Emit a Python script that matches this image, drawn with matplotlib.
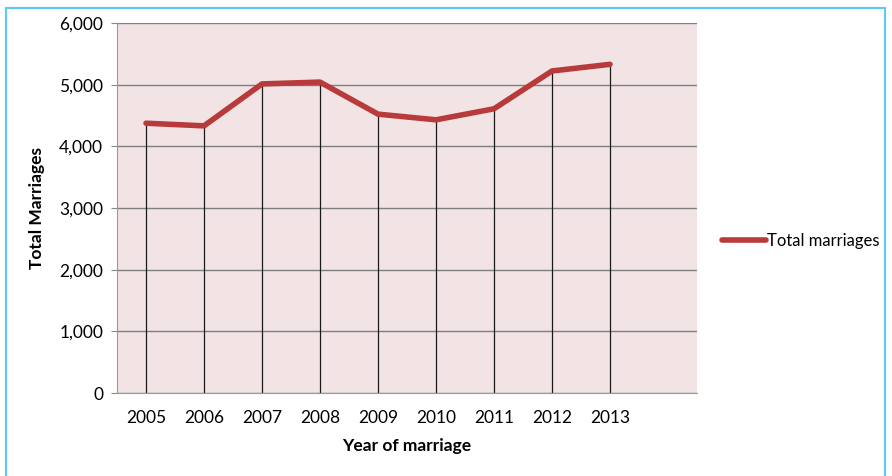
import matplotlib.pyplot as plt
from matplotlib.patches import Rectangle
import numpy as np

years = ["2005", "2006", "2007", "2008", "2009", "2010", "2011", "2012", "2013"]
marriages = [4375, 4332, 5012, 5042, 4522, 4430, 4609, 5222, 5330]
y_ticks = [0, 1000, 2000, 3000, 4000, 5000, 6000]

plt.rcParams['font.family'] = ['Lato', 'DejaVu Sans']

fig = plt.figure(figsize=(8.92, 4.76), dpi=100)
ax = fig.add_axes([117 / 892, 83 / 476, 580 / 892, 370 / 476])
ax.set_facecolor("#F2E4E5")

x = np.arange(len(years))

# drop lines from each point down to zero
ax.vlines(x, 0, marriages, colors="#1a1a1a", linewidth=0.9, zorder=2)
ax.plot(x, marriages, color="#B83A3A", linewidth=4.0, solid_capstyle="round",
        solid_joinstyle="round", label="Total marriages", zorder=3)

ax.set_xlim(-0.5, 9.5)
ax.set_ylim(0, 6000)
ax.set_yticks(y_ticks)
ax.set_yticklabels([f"{v:,}" for v in y_ticks], fontsize=12.5)
ax.set_xticks(x)
ax.set_xticklabels(years, fontsize=12.5)
ax.tick_params(axis="x", length=0, pad=12)
ax.tick_params(axis="y", length=4, color="#888888", pad=6)

ax.grid(axis="y", color="#7f7f7f", linewidth=1.0, zorder=1)
ax.set_axisbelow(True)
for side in ["top", "right"]:
    ax.spines[side].set_visible(False)
ax.spines["left"].set_color("#9a9a9a")
ax.spines["bottom"].set_color("#9a9a9a")

ax.set_xlabel("Year of marriage", fontsize=12.5, fontweight="bold", labelpad=9)
ax.set_ylabel("Total Marriages", fontsize=12.5, fontweight="bold", labelpad=10)

ax.legend(loc="center left", bbox_to_anchor=(1.038, 0.41), frameon=False,
          fontsize=12, handlelength=2.6, handletextpad=0.1, borderpad=0.2,
          borderaxespad=0.0)

# light blue frame around the chart
fig.patches.append(Rectangle((6 / 892, -0.05), 879 / 892, (468 / 476) + 0.05,
                             transform=fig.transFigure, fill=False,
                             edgecolor="#5CCBF2", linewidth=1.5))

fig.savefig("out.png", dpi=100)
